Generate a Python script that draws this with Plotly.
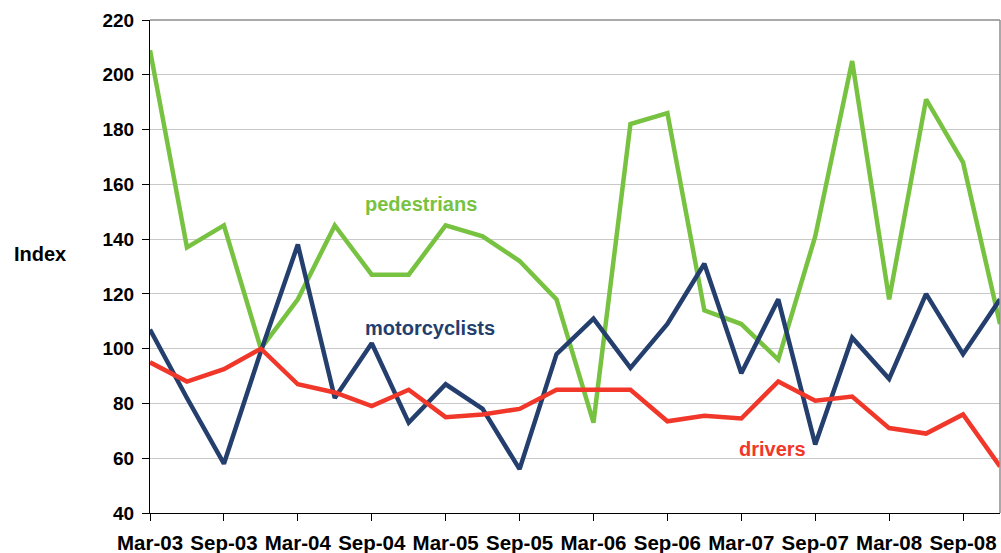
import plotly.graph_objects as go

quarters = ["Mar-03", "Jun-03", "Sep-03", "Dec-03", "Mar-04", "Jun-04", "Sep-04", "Dec-04",
            "Mar-05", "Jun-05", "Sep-05", "Dec-05", "Mar-06", "Jun-06", "Sep-06", "Dec-06",
            "Mar-07", "Jun-07", "Sep-07", "Dec-07", "Mar-08", "Jun-08", "Sep-08", "Dec-08"]

pedestrians = [209, 137, 145, 100, 118, 145, 127, 127, 145, 141, 132, 118,
               73, 182, 186, 114, 109, 96, 141, 205, 118, 191, 168, 109]
motorcyclists = [107, 82, 58, 99, 138, 82, 102, 73, 87, 78, 56, 98,
                 111, 93, 109, 131, 91, 118, 65, 104, 89, 120, 98, 118]
drivers = [95, 88, 92.5, 100, 87, 84, 79, 85, 75, 76, 78, 85,
           85, 85, 73.5, 75.5, 74.5, 88, 81, 82.5, 71, 69, 76, 57]

tick_labels = ["Mar-03", "Sep-03", "Mar-04", "Sep-04", "Mar-05", "Sep-05",
               "Mar-06", "Sep-06", "Mar-07", "Sep-07", "Mar-08", "Sep-08"]
y_ticks = [40, 60, 80, 100, 120, 140, 160, 180, 200, 220]

GREEN = "#78C241"
NAVY = "#243F6E"
RED = "#F0372A"

x = list(range(len(quarters)))
fig = go.Figure()
fig.add_trace(go.Scatter(x=x, y=pedestrians, mode="lines", line=dict(color=GREEN, width=4.5),
                         name="pedestrians", hovertext=quarters))
fig.add_trace(go.Scatter(x=x, y=motorcyclists, mode="lines", line=dict(color=NAVY, width=4.5),
                         name="motorcyclists", hovertext=quarters))
fig.add_trace(go.Scatter(x=x, y=drivers, mode="lines", line=dict(color=RED, width=4.5),
                         name="drivers", hovertext=quarters))

font_family = "Liberation Sans, Arial, sans-serif"

fig.update_layout(
    width=1001, height=553,
    margin=dict(l=150, r=1, t=20, b=40, autoexpand=False),
    paper_bgcolor="white", plot_bgcolor="white",
    showlegend=False,
    font=dict(family=font_family, color="black"),
    xaxis=dict(
        range=[0, 23],
        tickvals=[quarters.index(t) for t in tick_labels],
        ticktext=tick_labels,
        ticks="outside", ticklen=7, tickcolor="black",
        showline=True, linecolor="black", linewidth=1,
        showgrid=False, zeroline=False, automargin=False,
        ticklabelstandoff=4,
        tickfont=dict(size=20.5, family=font_family, weight="bold"),
    ),
    yaxis=dict(
        range=[40, 220],
        tickvals=y_ticks,
        ticks="outside", ticklen=7, tickcolor="black",
        showline=True, linecolor="black", linewidth=1,
        showgrid=True, gridcolor="#C8C8C8", gridwidth=1,
        zeroline=False, automargin=False,
        ticklabelstandoff=4,
        tickfont=dict(size=19, family=font_family, weight="bold"),
    ),
)

# gray top/right frame
fig.add_shape(type="line", xref="paper", yref="paper", x0=0, x1=1, y0=1, y1=1,
              line=dict(color="#8C8C8C", width=1.5), layer="above")
fig.add_shape(type="line", xref="paper", yref="paper", x0=1, x1=1, y0=0, y1=1,
              line=dict(color="#8C8C8C", width=1.5), layer="above")

# series labels
fig.add_annotation(x=5.76, y=153, xref="x", yref="y", text="<b>pedestrians</b>",
                   showarrow=False, font=dict(size=20, color=GREEN, family=font_family),
                   xanchor="left", yanchor="middle")
fig.add_annotation(x=5.76, y=107.4, xref="x", yref="y", text="<b>motorcyclists</b>",
                   showarrow=False, font=dict(size=20, color=NAVY, family=font_family),
                   xanchor="left", yanchor="middle")
fig.add_annotation(x=15.88, y=63.5, xref="x", yref="y", text="<b>drivers</b>",
                   showarrow=False, font=dict(size=20, color=RED, family=font_family),
                   xanchor="left", yanchor="middle")
fig.add_annotation(x=(12 - 150) / 850, y=1 - (253 - 19.5) / 493, xref="paper", yref="paper",
                   text="<b>Index</b>", showarrow=False,
                   font=dict(size=20, color="black", family=font_family),
                   xanchor="left", yanchor="middle")

fig.write_html("out.html", config={"displayModeBar": False},
               post_script="document.body.style.margin='0';")
